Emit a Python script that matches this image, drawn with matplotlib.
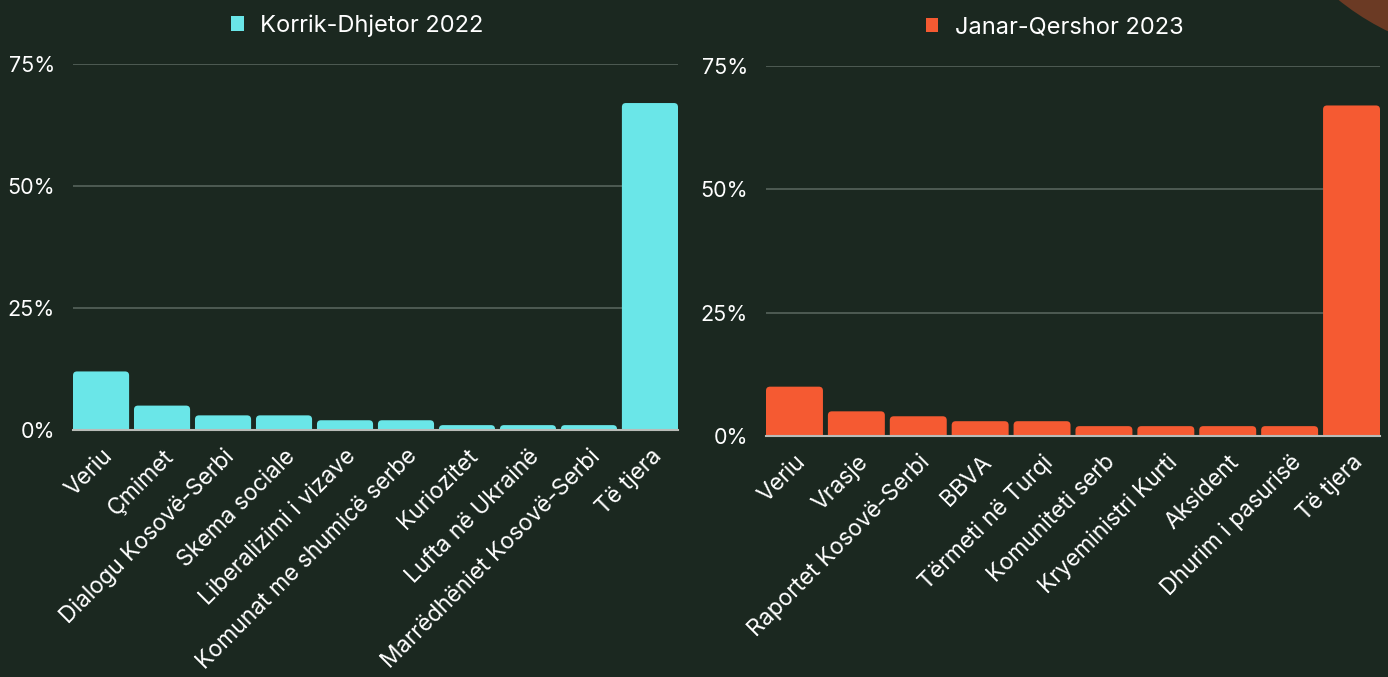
import matplotlib
matplotlib.use("Agg")
import matplotlib.pyplot as plt
from matplotlib.patches import Patch, Circle, FancyBboxPatch
from matplotlib.transforms import IdentityTransform
from matplotlib.ticker import FuncFormatter

plt.rcParams['font.family'] = ['Inter', 'DejaVu Sans']

cats_2022 = ["Veriu", "Çmimet", "Dialogu Kosovë-Serbi", "Skema sociale",
             "Liberalizimi i vizave", "Komunat me shumicë serbe", "Kuriozitet",
             "Lufta në Ukrainë", "Marrëdhëniet Kosovë-Serbi", "Të tjera"]
vals_2022 = [12, 5, 3, 3, 2, 2, 1, 1, 1, 67]

cats_2023 = ["Veriu", "Vrasje", "Raportet Kosovë-Serbi", "BBVA", "Tërmeti në Turqi",
             "Komuniteti serb", "Kryeministri Kurti", "Aksident", "Dhurim i pasurisë",
             "Të tjera"]
vals_2023 = [10, 5, 4, 3, 3, 2, 2, 2, 2, 67]

series_2022 = "Korrik-Dhjetor 2022"
series_2023 = "Janar-Qershor 2023"
yticks = [0, 25, 50, 75]

BG = "#1b2820"
CYAN = "#6ae6e8"
ORANGE = "#f55a32"
GRID = "#56635c"
TXT = "#ffffff"

fig = plt.figure(figsize=(13.88, 6.77), dpi=100, facecolor=BG)

# decorative circle in the top right corner
fig.add_artist(Circle((1500, 877), 257, transform=IdentityTransform(),
                      facecolor="#6b3a24", edgecolor="none", zorder=0))

ax1 = fig.add_axes([73/1388, 247/677, 605/1388, 366/677])
ax2 = fig.add_axes([766/1388, 241/677, 614/1388, 370/677])

def style(ax, cats, vals, color, label):
    ax.set_facecolor("none")
    x = list(range(len(cats)))
    w = 0.92
    bars = ax.bar(x, vals, width=w, color=color, zorder=3)
    ax.set_xlim(-0.46, len(cats) - 0.54)
    ax.set_ylim(0, 75)
    # rounded tops
    fig.canvas.draw()
    bb = ax.get_window_extent()
    xpx = bb.width / (len(cats) - 1 + 0.92)
    ypx = bb.height / 75.0
    r_px = 4.0
    rx = r_px / xpx
    asp = (1.0 / ypx) / (1.0 / xpx)
    for b in bars:
        b.set_visible(False)
        x0 = b.get_x()
        h = b.get_height()
        ext = r_px / ypx
        p = FancyBboxPatch((x0, -ext), b.get_width(), h + ext,
                           boxstyle=f"round,pad=0,rounding_size={rx}",
                           mutation_aspect=asp, facecolor=color,
                           edgecolor="none", zorder=3)
        ax.add_patch(p)
    ax.set_yticks(yticks)
    ax.yaxis.set_major_formatter(FuncFormatter(lambda v, p: f"{int(v)}%"))
    ax.set_xticks(x)
    ax.set_xticklabels(cats, rotation=45, ha="right", rotation_mode="anchor")
    ax.tick_params(axis="both", length=0, colors=TXT)
    ax.tick_params(axis="y", labelsize=15.5, pad=13)
    ax.tick_params(axis="x", labelsize=16.5, pad=11)
    ax.grid(axis="y", color=GRID, linewidth=1.2, zorder=0)
    for s in ["top", "right", "left"]:
        ax.spines[s].set_visible(False)
    ax.spines["bottom"].set_color("#b9bcb8")
    ax.spines["bottom"].set_linewidth(1.5)
    ax.spines["bottom"].set_zorder(4)
    ax.legend(handles=[Patch(facecolor=color, label=label)],
              loc="center", bbox_to_anchor=(0.47, 1.105),
              frameon=False, fontsize=17, handlelength=0.55, handleheight=0.55,
              handletextpad=0.7, labelcolor=TXT)

style(ax1, cats_2022, vals_2022, CYAN, series_2022)
style(ax2, cats_2023, vals_2023, ORANGE, series_2023)

fig.savefig("out.png", dpi=100, facecolor=BG)
